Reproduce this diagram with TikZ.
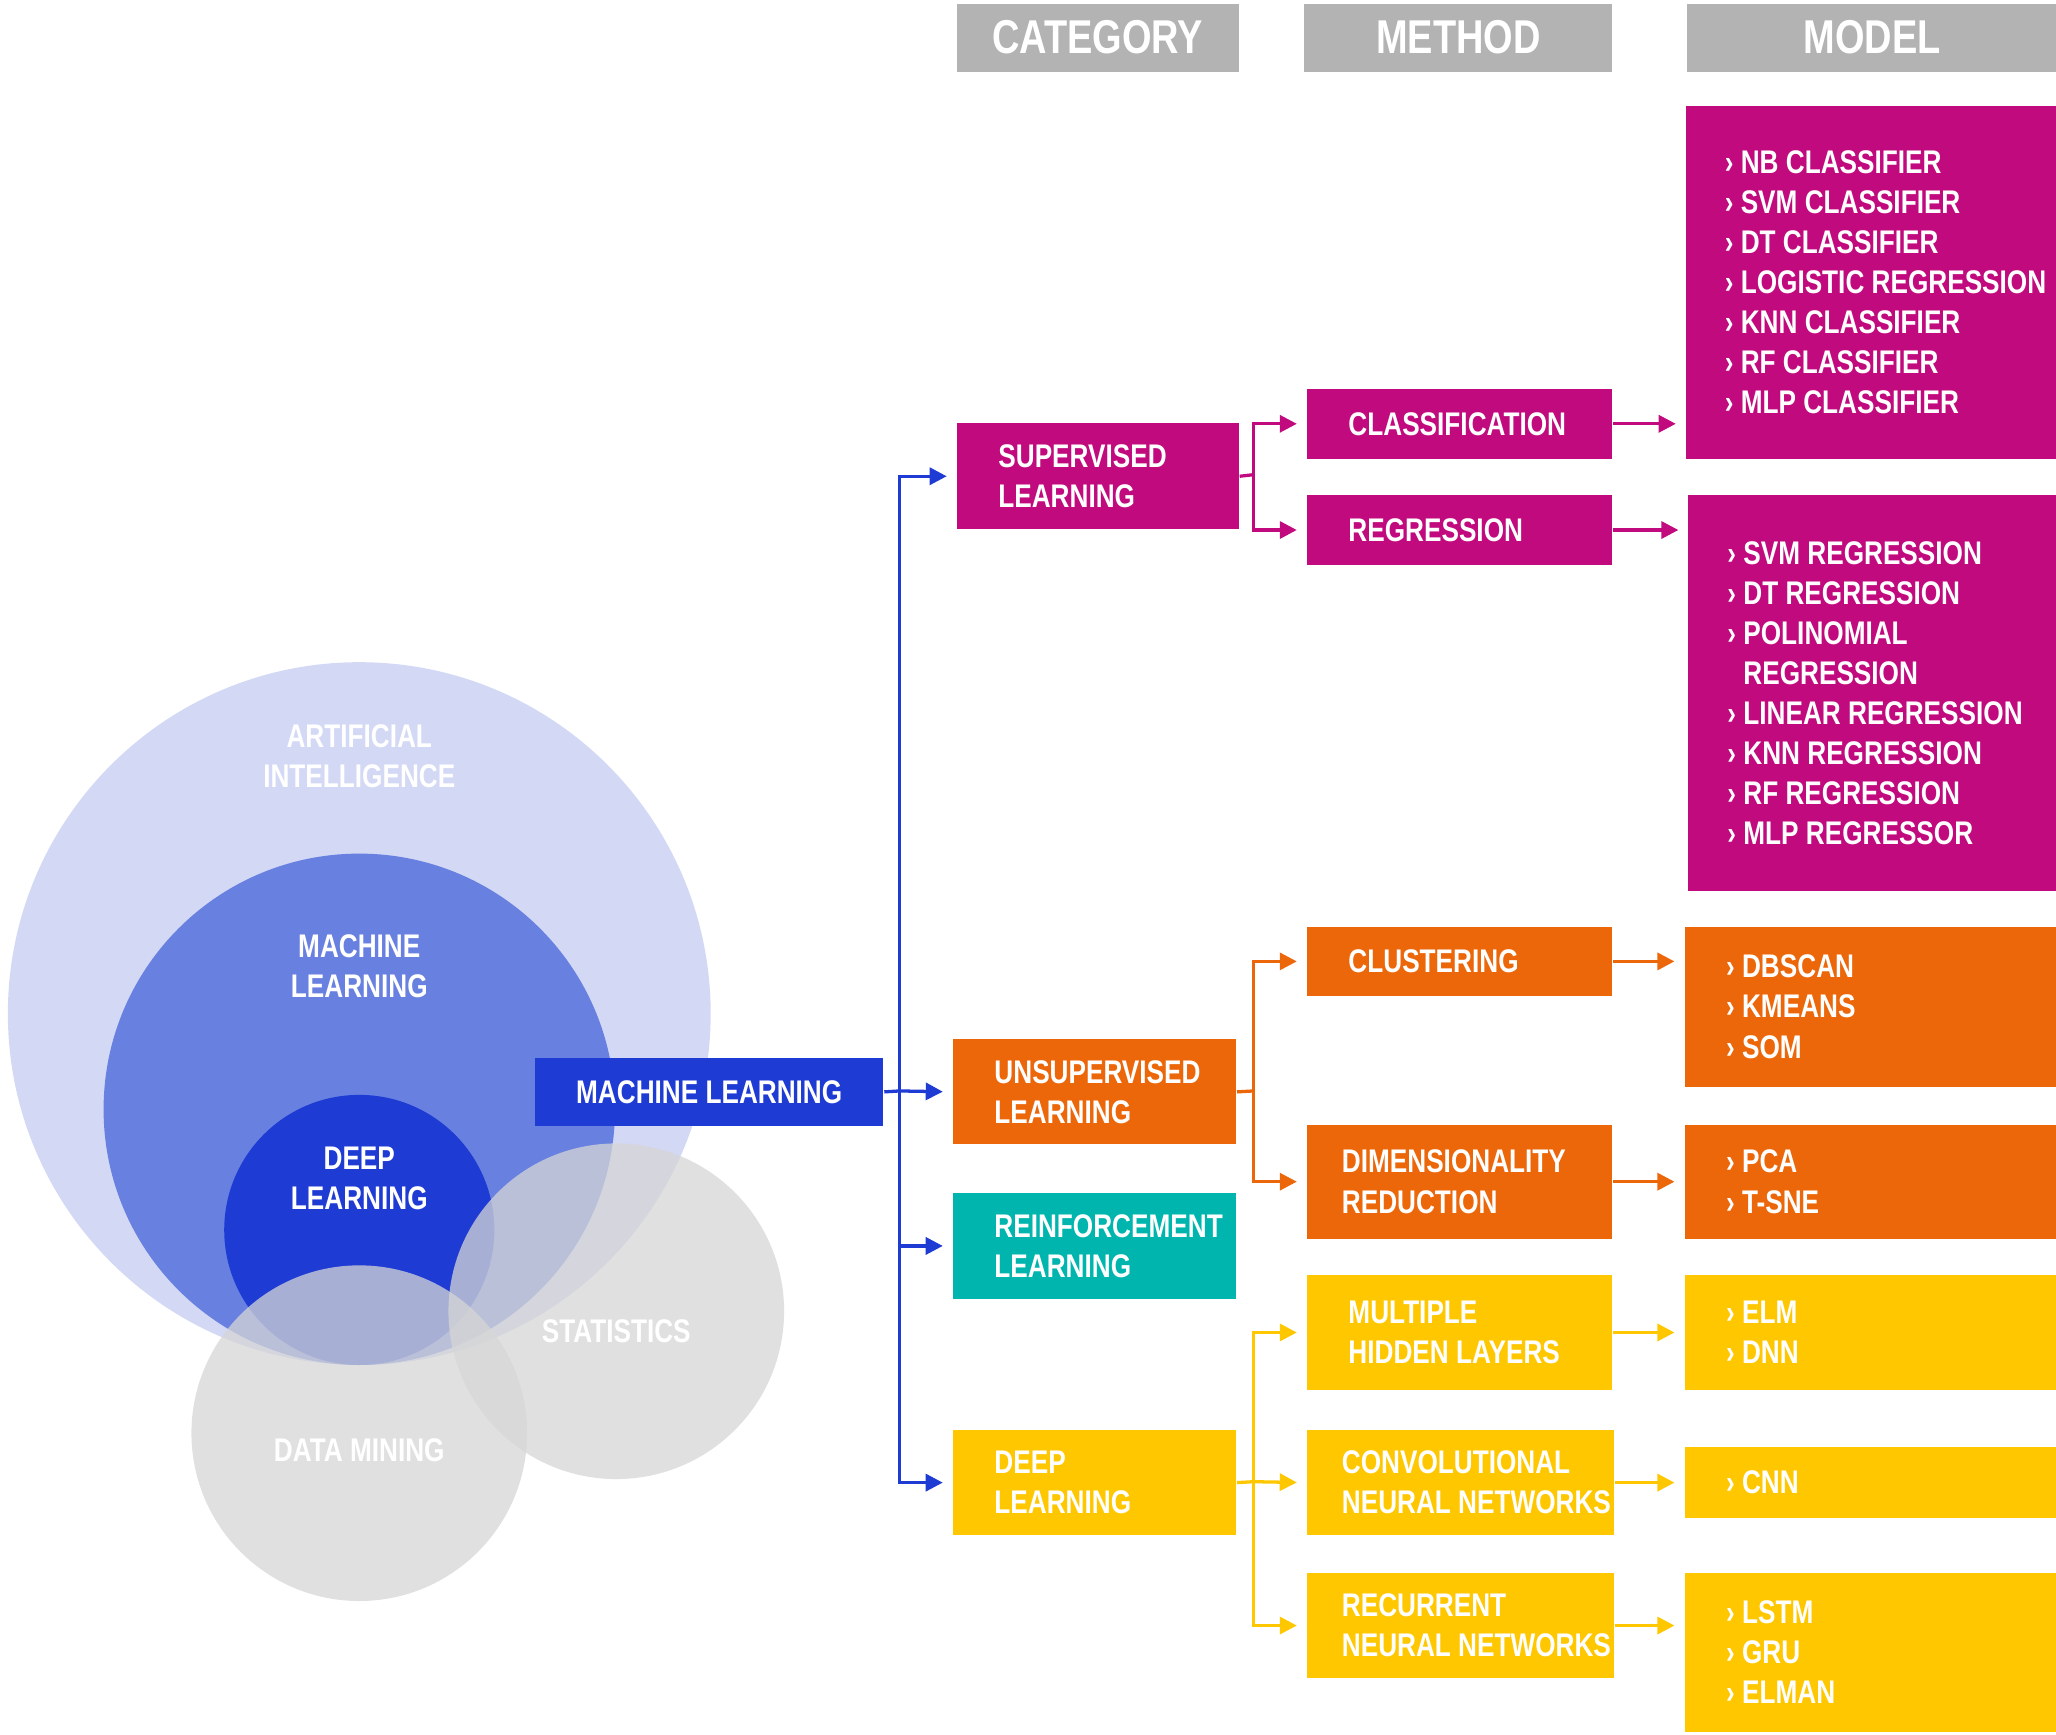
\documentclass[tikz,border=0pt]{standalone}
\usepackage{fontspec}
\usetikzlibrary{arrows.meta,positioning}
\newfontfamily\cond{Liberation Sans}[FakeStretch=0.8]
\definecolor{mlblue}{HTML}{1E3BD4}
\definecolor{mlmid}{HTML}{6880E0}
\definecolor{ailight}{HTML}{D3D8F5}
\definecolor{supcol}{HTML}{C00A7E}
\definecolor{unscol}{HTML}{EC670A}
\definecolor{reicol}{HTML}{00B5AD}
\definecolor{deecol}{HTML}{FFC700}
\definecolor{hdrcol}{HTML}{B3B3B3}
\definecolor{setcol}{HTML}{D6D6D6}
\tikzset{
  box/.style={anchor=north west, inner sep=0pt, draw=none},
  lbl/.style={anchor=west, xshift=2mm, align=left, text=white, font=\cond\bfseries\fontsize{7.1}{8.7}\selectfont},
  hdr/.style={box, fill=hdrcol, text=white, font=\cond\bfseries\fontsize{10.3}{12}\selectfont, minimum height=5.2mm},
  circtxt/.style={text=white, align=center, font=\cond\bfseries\fontsize{7.1}{8.7}\selectfont},
  link/.style={line width=0.25mm},
  arr/.style={link, -{Triangle[length=1.3mm,width=1.3mm]}, shorten >=0.7mm},
}
\begin{document}
\begin{tikzpicture}[x=0.1mm, y=-0.1mm]
\useasboundingbox (0,0) rectangle (1568,1323);
% circles
\fill[ailight] (274,773) circle (268);
\fill[mlmid] (274,846) circle (195);
\fill[mlblue] (274,938) circle (103);
\fill[setcol, opacity=0.75] (470,1000) circle (128);
\fill[setcol, opacity=0.75] (274,1093) circle (128);
\node[circtxt] (ai) at (274,577) {ARTIFICIAL\\INTELLIGENCE};
\node[circtxt] (mlc) at (274,737) {MACHINE\\LEARNING};
\node[circtxt] (dlc) at (274,899) {DEEP\\LEARNING};
\node[circtxt] (stat) at (470,1015) {STATISTICS};
\node[circtxt] (dm) at (274,1106) {DATA MINING};
% headers
\node[hdr, minimum width=21.5mm] (hcat) at (729,2) {CATEGORY};
\node[hdr, minimum width=23.5mm] (hmet) at (994,2) {METHOD};
\node[hdr, minimum width=28.2mm] (hmod) at (1286,2) {MODEL};
% root
\node[box, fill=mlblue, minimum width=26.6mm, minimum height=5.2mm, label={[lbl]west:MACHINE LEARNING}] (ml) at (407,806) {};
% categories
\node[box, fill=supcol, minimum width=21.5mm, minimum height=8.1mm, label={[lbl]west:SUPERVISED\\LEARNING}] (sup) at (729,322) {};
\node[box, fill=unscol, minimum width=21.6mm, minimum height=8.0mm, label={[lbl]west:UNSUPERVISED\\LEARNING}] (uns) at (726,792) {};
\node[box, fill=reicol, minimum width=21.6mm, minimum height=8.1mm, label={[lbl]west:REINFORCEMENT\\LEARNING}] (rei) at (726,909) {};
\node[box, fill=deecol, minimum width=21.6mm, minimum height=8.0mm, label={[lbl]west:DEEP\\LEARNING}] (dee) at (726,1090) {};
% methods
\node[box, fill=supcol, minimum width=23.3mm, minimum height=5.3mm, label={[lbl]west:CLASSIFICATION}] (cls) at (996,296) {};
\node[box, fill=supcol, minimum width=23.3mm, minimum height=5.3mm, label={[lbl]west:REGRESSION}] (reg) at (996,377) {};
\node[box, fill=unscol, minimum width=23.3mm, minimum height=5.3mm, label={[lbl]west:CLUSTERING}] (clu) at (996,706) {};
\node[box, fill=unscol, minimum width=23.3mm, minimum height=8.7mm, label={[lbl, xshift=-0.5mm]west:DIMENSIONALITY\\REDUCTION}] (dim) at (996,857) {};
\node[box, fill=deecol, minimum width=23.3mm, minimum height=8.7mm, label={[lbl]west:MULTIPLE\\HIDDEN LAYERS}] (mhl) at (996,972) {};
\node[box, fill=deecol, minimum width=23.4mm, minimum height=8.0mm, label={[lbl, xshift=-0.5mm]west:CONVOLUTIONAL\\NEURAL NETWORKS}] (cnv) at (996,1090) {};
\node[box, fill=deecol, minimum width=23.4mm, minimum height=8.0mm, label={[lbl, xshift=-0.5mm]west:RECURRENT\\NEURAL NETWORKS}] (rnn) at (996,1199) {};
% models
\node[box, fill=supcol, minimum width=28.3mm, minimum height=26.9mm, label={[lbl, xshift=-0.2mm]west:› NB CLASSIFIER\\› SVM CLASSIFIER\\› DT CLASSIFIER\\› LOGISTIC REGRESSION\\› KNN CLASSIFIER\\› RF CLASSIFIER\\› MLP CLASSIFIER}] (mcls) at (1285,80) {};
\node[box, fill=supcol, minimum width=28.1mm, minimum height=30.2mm, label={[lbl, xshift=-0.2mm]west:› SVM REGRESSION\\› DT REGRESSION\\› POLINOMIAL\\\phantom{› }REGRESSION\\› LINEAR REGRESSION\\› KNN REGRESSION\\› RF REGRESSION\\› MLP REGRESSOR}] (mreg) at (1287,377) {};
\node[box, fill=unscol, minimum width=28.4mm, minimum height=12.2mm, label={[lbl]west:› DBSCAN\\› KMEANS\\› SOM}] (mclu) at (1284,706) {};
\node[box, fill=unscol, minimum width=28.4mm, minimum height=8.7mm, label={[lbl]west:› PCA\\› T-SNE}] (mdim) at (1284,857) {};
\node[box, fill=deecol, minimum width=28.4mm, minimum height=8.7mm, label={[lbl]west:› ELM\\› DNN}] (mmhl) at (1284,972) {};
\node[box, fill=deecol, minimum width=28.4mm, minimum height=5.4mm, label={[lbl]west:› CNN}] (mcnv) at (1284,1103) {};
\node[box, fill=deecol, minimum width=28.4mm, minimum height=12.1mm, label={[lbl]west:› LSTM\\› GRU\\› ELMAN}] (mrnn) at (1284,1199) {};
% connectors
\coordinate (bt) at (686,832);
\draw[link, mlblue] (ml.east) -- (bt);
\draw[arr, mlblue] (bt) |- (sup.west);
\draw[arr, mlblue] (bt) -- (uns.west);
\draw[arr, mlblue] (bt) |- (rei.west);
\draw[arr, mlblue] (bt) |- (dee.west);
\coordinate (sj) at (956,362);
\draw[link, supcol] (sup.east) -- (sj);
\draw[arr, supcol] (sj) |- (cls.west);
\draw[arr, supcol] (sj) |- (reg.west);
\coordinate (uj) at (956,832);
\draw[link, unscol] (uns.east) -- (uj);
\draw[arr, unscol] (uj) |- (clu.west);
\draw[arr, unscol] (uj) |- (dim.west);
\coordinate (dj) at (956,1130);
\draw[link, deecol] (dee.east) -- (dj);
\draw[arr, deecol] (dj) |- (mhl.west);
\draw[arr, deecol] (dj) -- (cnv.west);
\draw[arr, deecol] (dj) |- (rnn.west);
\draw[arr, supcol] (cls.east) -- (cls.east -| mcls.west);
\draw[arr, supcol] (reg.east) -- (reg.east -| mreg.west);
\draw[arr, unscol] (clu.east) -- (clu.east -| mclu.west);
\draw[arr, unscol] (dim.east) -- (dim.east -| mdim.west);
\draw[arr, deecol] (mhl.east) -- (mhl.east -| mmhl.west);
\draw[arr, deecol] (cnv.east) -- (cnv.east -| mcnv.west);
\draw[arr, deecol] (rnn.east) -- (rnn.east -| mrnn.west);
\end{tikzpicture}
\end{document}
